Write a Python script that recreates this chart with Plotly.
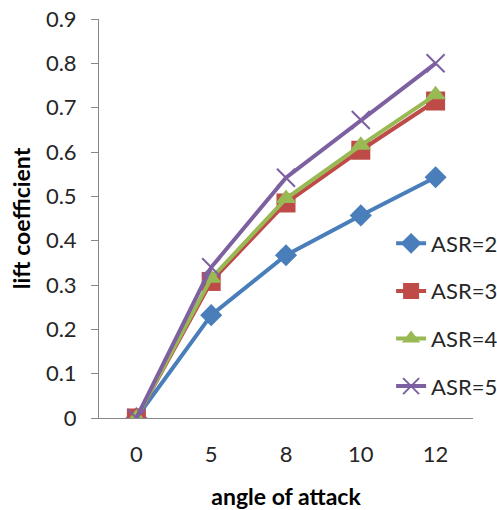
import plotly.graph_objects as go

angles = ["0", "5", "8", "10", "12"]
asr2 = [0, 0.232, 0.367, 0.457, 0.543]
asr3 = [0, 0.308, 0.485, 0.604, 0.715]
asr4 = [0, 0.315, 0.495, 0.615, 0.729]
asr5 = [0, 0.340, 0.542, 0.672, 0.800]
names = ["ASR=2", "ASR=3", "ASR=4", "ASR=5"]
colors = ["#4A7EBB", "#BE4B48", "#98B954", "#7D60A0"]
symbols = ["diamond", "square", "triangle-up", "x-thin"]
sizes = [17, 19, 18, 18]

FONT = "Lato"
fig = go.Figure()
for i, (nm, ys) in enumerate(zip(names, [asr2, asr3, asr4, asr5])):
    mk = dict(symbol=symbols[i], size=sizes[i], color=colors[i])
    if symbols[i] == "x-thin":
        mk["line"] = dict(width=2, color=colors[i])
    fig.add_trace(go.Scatter(
        x=angles, y=ys, name=nm, mode="lines+markers",
        line=dict(color=colors[i], width=4),
        marker=mk, legendgroup=nm,
    ))

fig.update_layout(
    width=497, height=510,
    margin=dict(l=99, r=24, t=19, b=92, autoexpand=False),
    paper_bgcolor="white", plot_bgcolor="white",
    font=dict(family=FONT, size=22, color="#262626"),
    showlegend=True,
    legend=dict(x=0.781, y=0.49, xanchor="left", yanchor="top",
                bgcolor="rgba(255,255,255,0)", tracegroupgap=16,
                font=dict(family=FONT, size=22, color="#262626")),
    xaxis=dict(type="category", range=[-0.5, 4.5], showgrid=False,
               showline=True, linecolor="#868686", linewidth=1,
               ticks="", ticklabelstandoff=17, automargin=False,
               title=dict(text="<b>angle of attack</b>", standoff=30,
                          font=dict(family=FONT, size=23, color="black"))),
    yaxis=dict(range=[0, 0.9], dtick=0.1, showgrid=False, zeroline=False,
               showline=True, linecolor="#868686", linewidth=1,
               ticks="outside", ticklen=7, tickcolor="#868686",
               ticklabelstandoff=10, automargin=False,
               title=dict(text="<b>lift coefficient</b>", standoff=8,
                          font=dict(family=FONT, size=23, color="black"))),
)
fig.write_html("out.html")
